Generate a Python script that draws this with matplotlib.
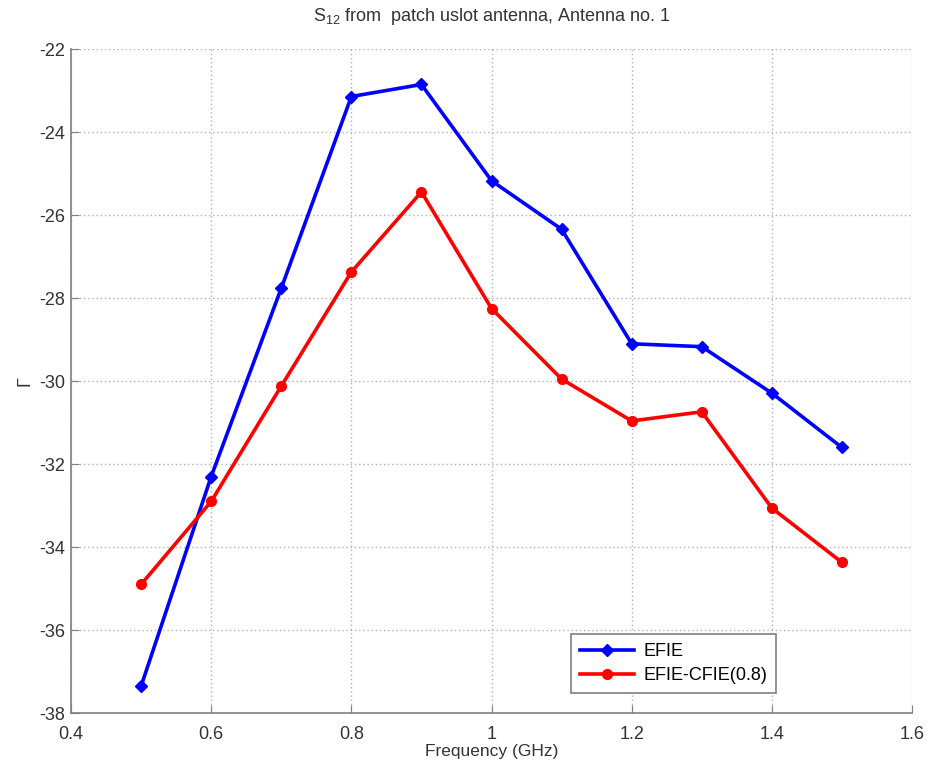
import matplotlib
matplotlib.use("Agg")
import matplotlib.pyplot as plt

freq = [0.5, 0.6, 0.7, 0.8, 0.9, 1.0, 1.1, 1.2, 1.3, 1.4, 1.5]
efie = [-37.35, -32.3, -27.76, -23.14, -22.85, -25.17, -26.34, -29.1, -29.17, -30.29, -31.6]
efie_cfie = [-34.9, -32.9, -30.12, -27.37, -25.44, -28.25, -29.95, -30.96, -30.74, -33.06, -34.37]

xticks = [0.4, 0.6, 0.8, 1.0, 1.2, 1.4, 1.6]
xtick_labels = ["0.4", "0.6", "0.8", "1", "1.2", "1.4", "1.6"]
yticks = [-38, -36, -34, -32, -30, -28, -26, -24, -22]

plt.rcParams["font.family"] = ["Liberation Sans", "DejaVu Sans"]
plt.rcParams["axes.unicode_minus"] = False
plt.rcParams["mathtext.fontset"] = "custom"
plt.rcParams["mathtext.rm"] = "Liberation Sans"
plt.rcParams["mathtext.it"] = "Liberation Sans"

fig = plt.figure(figsize=(9.31, 7.69), dpi=100)
ax = fig.add_axes([0.0763, 0.0728, 0.9033, 0.8632])

ax.plot(freq, efie, color="#0000ff", lw=2.6, marker="D", ms=6.5, label="EFIE")
ax.plot(freq, efie_cfie, color="#ff0000", lw=2.6, marker="o", ms=7, label="EFIE-CFIE(0.8)")

ax.set_xlim(0.4, 1.6)
ax.set_ylim(-38, -22)
ax.set_xticks(xticks)
ax.set_xticklabels(xtick_labels)
ax.set_yticks(yticks)
ax.grid(True, color="#b0b0b0", linestyle=(0, (1, 2)), lw=1)

for side in ("top", "right"):
    ax.spines[side].set_visible(False)
for side in ("left", "bottom"):
    ax.spines[side].set_color("#808080")
    ax.spines[side].set_linewidth(1.2)
ax.tick_params(direction="in", length=6, color="#808080", labelsize=13,
               labelcolor="#333333")
ax.tick_params(axis="x", pad=9)
ax.tick_params(axis="y", pad=4)

ax.set_xlabel("Frequency (GHz)", fontsize=12.5, color="#333333", labelpad=1)
ax.set_ylabel("Γ", fontsize=13, color="#333333", labelpad=4)
ax.set_title("S$_{12}$ from  patch uslot antenna, Antenna no. 1", fontsize=13,
             color="#333333", pad=20)

leg = ax.legend(loc="lower left", bbox_to_anchor=(0.584, 0.016), fontsize=13,
                fancybox=False, framealpha=1, edgecolor="#808080",
                handlelength=3.0, handletextpad=0.5, borderpad=0.5,
                labelspacing=0.4)
leg.get_frame().set_linewidth(1.2)

fig.savefig("out.png", dpi=100)
